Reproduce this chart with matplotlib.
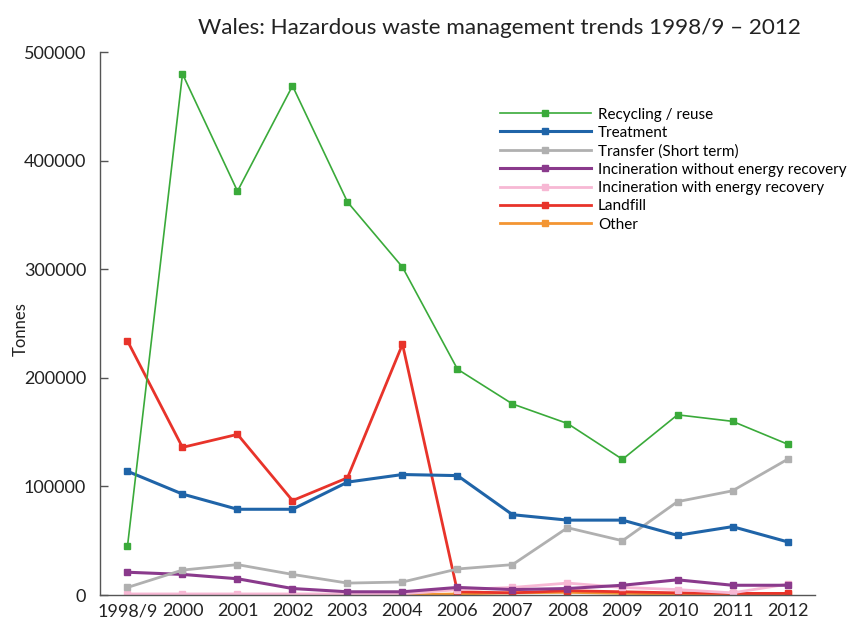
import matplotlib.pyplot as plt
import numpy as np

plt.rcParams['font.family'] = ['Lato', 'DejaVu Sans']

years = ['1998/9', '2000', '2001', '2002', '2003', '2004', '2006',
         '2007', '2008', '2009', '2010', '2011', '2012']

recycling = [45000, 480000, 372000, 469000, 362000, 302000, 208000,
             176000, 158000, 125000, 166000, 160000, 139000]
treatment = [114000, 93000, 79000, 79000, 104000, 111000, 110000,
             74000, 69000, 69000, 55000, 63000, 49000]
transfer = [7000, 23000, 28000, 19000, 11000, 12000, 24000,
            28000, 62000, 50000, 86000, 96000, 125000]
incin_no_energy = [21000, 19000, 15000, 6000, 3000, 3000, 7000,
                   5000, 6000, 9000, 14000, 9000, 9000]
incin_energy = [1000, 1000, 1000, 1000, 1000, 1000, 5000,
                7000, 11000, 7000, 5000, 2000, 10000]
landfill = [234000, 136000, 148000, 87000, 108000, 231000, 3000,
            2000, 4000, 3000, 2000, 1500, 1500]
other = [np.nan, np.nan, np.nan, np.nan, np.nan, 0, 1000,
         2000, 2500, 1500, 1000, 1000, 1000]

series = [
    ('Recycling / reuse', recycling, '#3aaa3a', 1.2),
    ('Treatment', treatment, '#1f64a8', 2.2),
    ('Transfer (Short term)', transfer, '#b0b0b0', 2.0),
    ('Incineration without energy recovery', incin_no_energy, '#8a3a8c', 2.2),
    ('Incineration with energy recovery', incin_energy, '#f7b8d4', 2.0),
    ('Landfill', landfill, '#e8332a', 2.0),
    ('Other', other, '#f39532', 2.0),
]

fig = plt.figure(figsize=(8.51, 6.29), dpi=100)
ax = fig.add_axes([0.1175, 0.054, 0.8402, 0.863])

x = np.arange(len(years))
# draw in reverse so recycling ends up on top like the original
for label, vals, color, lw in reversed(series):
    ax.plot(x, vals, color=color, linewidth=lw, marker='s', markersize=5,
            label=label)

ax.set_xlim(-0.5, 12.5)
ax.set_ylim(0, 500000)
ax.set_xticks(x)
ax.set_xticklabels(years)
ax.set_yticks(np.arange(0, 500001, 100000))
ax.tick_params(axis='x', length=0, labelsize=13, pad=6, colors='#222222')
ax.tick_params(axis='y', direction='in', length=6, width=1, color='#555555',
               labelsize=13, pad=10, labelcolor='#222222')
for s in ['top', 'right']:
    ax.spines[s].set_visible(False)
for s in ['left', 'bottom']:
    ax.spines[s].set_color('#555555')
    ax.spines[s].set_linewidth(1)

ax.set_ylabel('Tonnes', fontsize=12, color='#222222')
ax.yaxis.set_label_coords(-0.099, 0.49)

fig.text(0.587, 0.955, 'Wales: Hazardous waste management trends 1998/9 \u2013 2012',
         ha='center', va='center', fontsize=16.2, color='#222222')

handles, labels = ax.get_legend_handles_labels()
handles, labels = handles[::-1], labels[::-1]
ax.legend(handles, labels, loc='upper left', bbox_to_anchor=(0.587, 0.829),
          bbox_transform=fig.transFigure, frameon=False, fontsize=11,
          handlelength=6.0, handletextpad=0.45, labelspacing=0.28,
          borderaxespad=0, borderpad=0)

plt.savefig('out.png', dpi=100)
